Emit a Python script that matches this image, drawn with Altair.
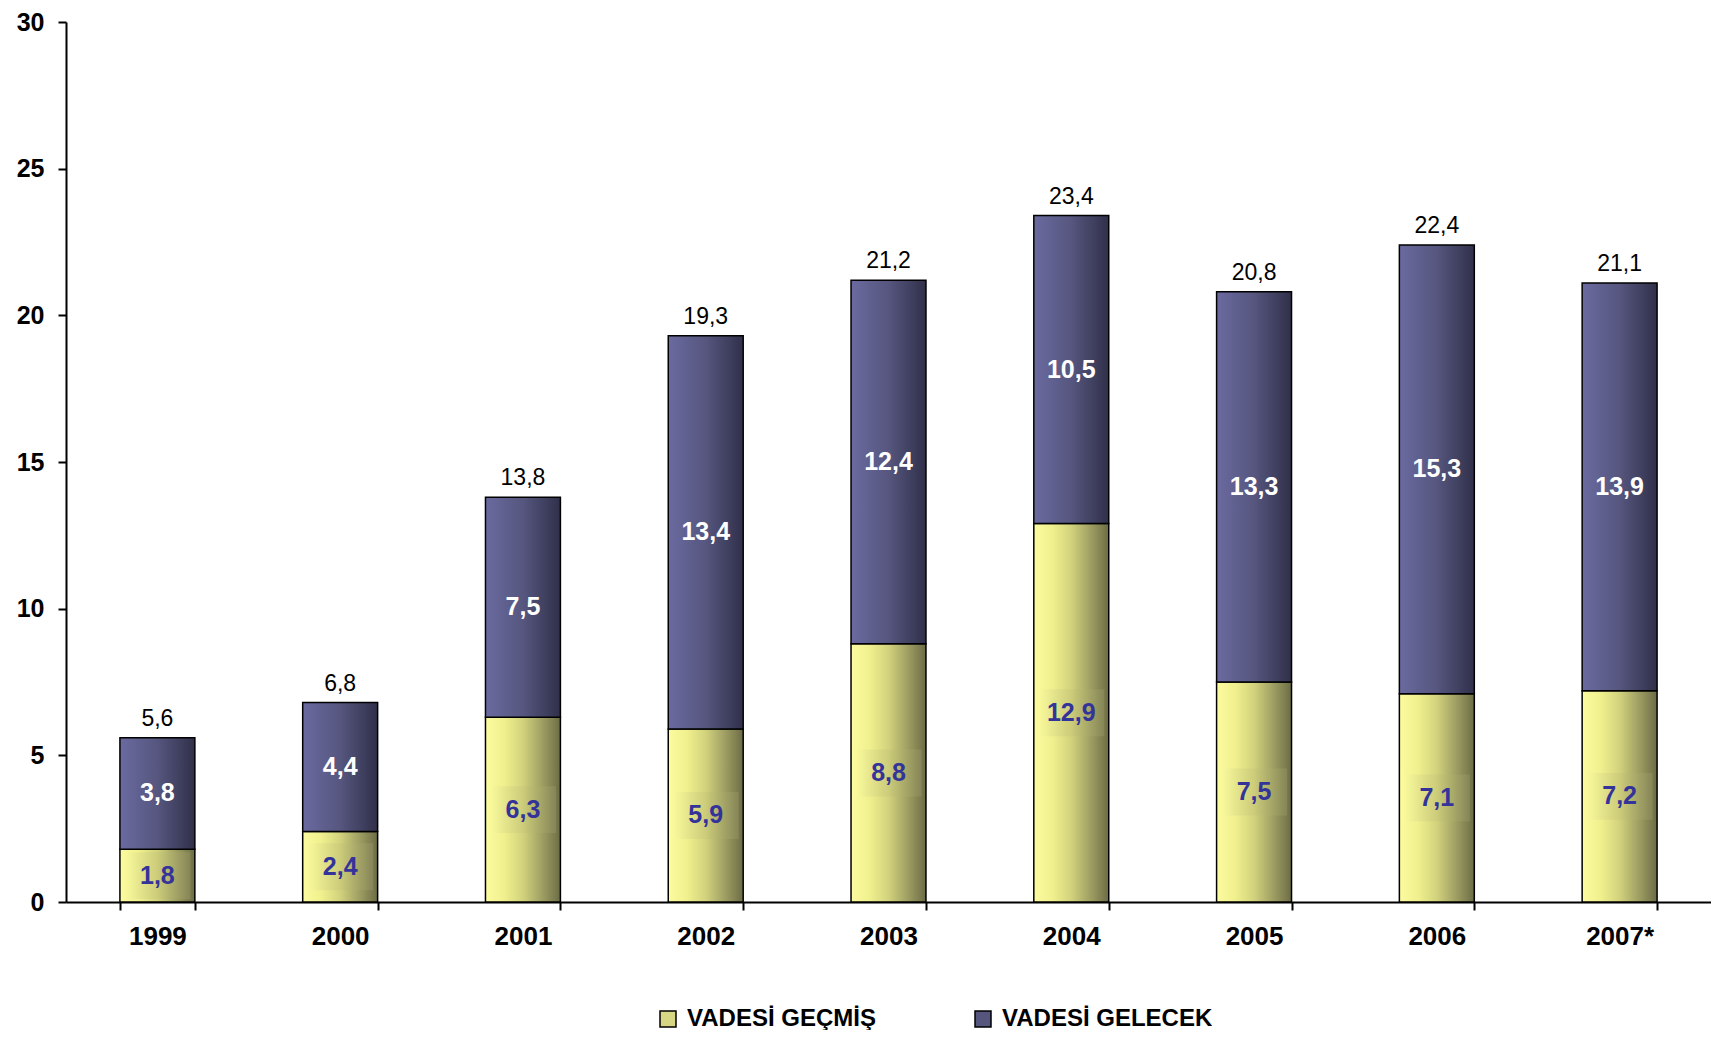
import altair as alt
import pandas as pd

# ---- data ----
years = ["1999", "2000", "2001", "2002", "2003", "2004", "2005", "2006", "2007*"]
vadesi_gecmis = [1.8, 2.4, 6.3, 5.9, 8.8, 12.9, 7.5, 7.1, 7.2]
vadesi_gelecek = [3.8, 4.4, 7.5, 13.4, 12.4, 10.5, 13.3, 15.3, 13.9]
toplam = [5.6, 6.8, 13.8, 19.3, 21.2, 23.4, 20.8, 22.4, 21.1]
series_names = ["VADESİ GEÇMİŞ", "VADESİ GELECEK"]
y_ticks = [0, 5, 10, 15, 20, 25, 30]

df = pd.DataFrame({"yil": years, "gecmis": vadesi_gecmis,
                   "gelecek": vadesi_gelecek, "toplam": toplam})
long_df = pd.DataFrame({
    "yil": years + years,
    "seri": [series_names[0]] * len(years) + [series_names[1]] * len(years),
    "deger": vadesi_gecmis + vadesi_gelecek,
})

FONT = "Liberation Sans"


def grad(stops):
    return alt.Gradient(
        gradient="linear",
        stops=[alt.GradientStop(color=c, offset=o) for o, c in stops],
        x1=0, x2=1, y1=0, y2=0,
    )


yellow_grad = grad([(0, "#FCFCA0"), (0.25, "#F0F08E"), (0.5, "#D2D27D"),
                    (0.75, "#A0A064"), (1, "#6C6C46")])
blue_grad = grad([(0, "#6A6AA0"), (0.5, "#56567F"), (1, "#30304A")])
box_grad = grad([(0, "#FAFA9C"), (0.5, "#CCCC7A"), (1, "#858558")])

x_enc = alt.X(
    "yil:N", sort=years, title=None,
    scale=alt.Scale(paddingInner=0.59, paddingOuter=0.295),
    axis=alt.Axis(
        labelFont=FONT, labelFontSize=26, labelFontWeight="bold",
        labelColor="black", labelAngle=0, labelPadding=13,
        tickBand="extent", tickSize=8, tickWidth=2, tickColor="black",
        domainColor="black", domainWidth=2, grid=False,
    ),
)

y_scale = alt.Scale(domain=[0, 30], nice=False, zero=True)
y_axis = alt.Axis(
    values=y_ticks, labelFont=FONT, labelFontSize=25, labelFontWeight="bold",
    labelColor="black", labelPadding=14, tickSize=8, tickWidth=2,
    tickColor="black", domainColor="black", domainWidth=2, grid=False,
)

base = alt.Chart(df)

bars_low = base.mark_bar(color=yellow_grad, stroke="black", strokeWidth=1.5).encode(
    x=x_enc,
    y=alt.Y("gecmis:Q", scale=y_scale, axis=y_axis, title=None),
)

bars_high = base.mark_bar(color=blue_grad, stroke="black", strokeWidth=1.5).encode(
    x=x_enc,
    y=alt.Y("gecmis:Q", scale=y_scale, title=None),
    y2="toplam:Q",
)

label_boxes = base.transform_calculate(
    lo="datum.gecmis / 2 - 0.8", hi="datum.gecmis / 2 + 0.8"
).mark_bar(color=box_grad, width=66).encode(
    x=x_enc,
    y=alt.Y("lo:Q", scale=y_scale, title=None),
    y2="hi:Q",
)

low_text = base.transform_calculate(
    mid="datum.gecmis / 2",
    lbl="replace(format(datum.gecmis, '.1f'), '.', ',')",
).mark_text(font=FONT, fontSize=25, fontWeight="bold", color="#333399",
            baseline="middle").encode(
    x=x_enc,
    y=alt.Y("mid:Q", scale=y_scale, title=None),
    text="lbl:N",
)

high_text = base.transform_calculate(
    mid="(datum.gecmis + datum.toplam) / 2",
    lbl="replace(format(datum.gelecek, '.1f'), '.', ',')",
).mark_text(font=FONT, fontSize=25, fontWeight="bold", color="white",
            baseline="middle").encode(
    x=x_enc,
    y=alt.Y("mid:Q", scale=y_scale, title=None),
    text="lbl:N",
)

total_text = base.transform_calculate(
    lbl="replace(format(datum.toplam, '.1f'), '.', ',')",
).mark_text(font=FONT, fontSize=23, color="black", baseline="alphabetic",
            dy=-12).encode(
    x=x_enc,
    y=alt.Y("toplam:Q", scale=y_scale, title=None),
    text="lbl:N",
)

legend_layer = alt.Chart(long_df).mark_square(opacity=0).encode(
    x=x_enc,
    y=alt.Y("deger:Q", scale=y_scale, title=None),
    color=alt.Color(
        "seri:N",
        scale=alt.Scale(domain=series_names, range=["#D6D684", "#55557E"]),
        legend=alt.Legend(
            title=None, orient="none", legendX=590, legendY=985,
            direction="horizontal", symbolType="square", symbolSize=256,
            symbolStrokeColor="black", symbolStrokeWidth=1.5, symbolOpacity=1,
            labelFont=FONT, labelFontSize=24, labelFontWeight="bold",
            labelColor="black", labelOffset=7, labelLimit=500,
            columnPadding=95, padding=0,
        ),
    ),
)

chart = alt.layer(
    bars_low, bars_high, label_boxes, low_text, high_text, total_text, legend_layer
).properties(
    width=1645, height=880, background="white",
    padding={"left": 58, "top": 14, "right": 0, "bottom": 128},
    autosize=alt.AutoSizeParams(type="none"),
).configure_view(stroke=None)

chart.save("out.html", embed_options={"renderer": "svg", "actions": False})
